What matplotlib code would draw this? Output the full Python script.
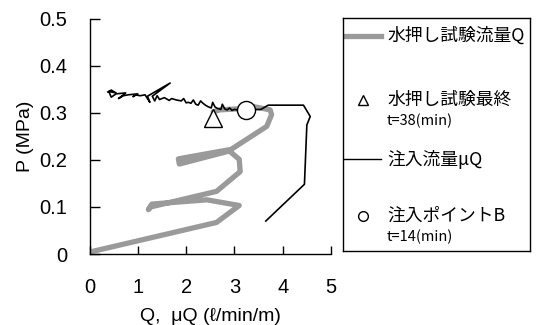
import matplotlib
matplotlib.use("Agg")
import matplotlib.pyplot as plt
from matplotlib.lines import Line2D

# ---- data ----
water_q = [0.00, 2.63, 3.10, 2.43, 1.29, 1.22, 1.27, 2.63, 3.12, 3.10, 2.87, 1.84, 1.86, 2.87,
           3.67, 3.77, 3.74, 3.39, 3.05, 2.70, 2.56]
water_p = [0.004, 0.067, 0.103, 0.115, 0.106, 0.094, 0.100, 0.133, 0.175, 0.201, 0.221, 0.202, 0.191, 0.218,
           0.271, 0.296, 0.306, 0.313, 0.308, 0.306, 0.302]

inj_q = [3.65, 4.45, 4.50, 4.57, 4.43, 3.70, 3.55, 3.23,
         3.10, 3.00, 2.95, 2.90, 2.85, 2.80, 2.75, 2.72, 2.65, 2.60, 2.55, 2.52, 2.45, 2.40,
         2.35, 2.30, 2.25, 2.20, 2.15, 2.10, 2.05, 2.00, 1.95, 1.90, 1.80, 1.70, 1.65, 1.55,
         1.45, 1.40, 1.35, 1.30, 1.67, 1.20, 1.25, 1.15, 1.05, 0.95, 0.90, 1.00, 0.80, 0.70,
         0.60, 0.75, 0.55, 0.45, 0.40, 0.55, 0.45, 0.38]
inj_p = [0.070, 0.148, 0.274, 0.292, 0.316, 0.316, 0.307, 0.306,
         0.305, 0.307, 0.305, 0.310, 0.306, 0.308, 0.318, 0.307, 0.309, 0.312, 0.322, 0.310, 0.313, 0.316,
         0.320, 0.325, 0.316, 0.318, 0.327, 0.320, 0.322, 0.321, 0.330, 0.325, 0.327, 0.330, 0.326, 0.332,
         0.328, 0.336, 0.325, 0.335, 0.363, 0.335, 0.322, 0.338, 0.336, 0.338, 0.334, 0.340, 0.338, 0.336,
         0.330, 0.342, 0.340, 0.333, 0.345, 0.342, 0.348, 0.344]

final_q, final_p = [2.55], [0.289]     # 水押し試験最終 t=38
pointB_q, pointB_p = [3.23], [0.306]   # 注入ポイントB t=14

xticks = [0, 1, 2, 3, 4, 5]
yticks = [0, 0.1, 0.2, 0.3, 0.4, 0.5]
ytick_labels = ["0", "0.1", "0.2", "0.3", "0.4", "0.5"]

legend_labels = ["水押し試験流量Q", "水押し試験最終", "注入流量μQ", "注入ポイントB"]
legend_subs = ["", "t=38(min)", "", "t=14(min)"]

FONT = ["Liberation Sans", "Noto Sans CJK JP", "DejaVu Sans"]
JFONT = ["Noto Sans CJK JP", "DejaVu Sans"]
plt.rcParams["font.family"] = FONT

W, H = 536, 325
fig = plt.figure(figsize=(W / 100, H / 100), dpi=100)
ax = fig.add_axes([89.5 / W, 1 - 254 / H, (331 - 89.5) / W, (254 - 18.5) / H])

ax.plot(water_q, water_p, color="#9a9a9a", lw=3.8, solid_capstyle="round", solid_joinstyle="round", zorder=2)
ax.plot(inj_q, inj_p, color="black", lw=1.2, zorder=3)
ax.plot(final_q, final_p, marker="^", ms=13, mfc="white", mec="black", mew=1.0, ls="none", zorder=4)
ax.plot(pointB_q, pointB_p, marker="o", ms=13, mfc="white", mec="black", mew=1.0, ls="none", zorder=5)

ax.set_xlim(0, 5)
ax.set_ylim(0, 0.5)
ax.set_xticks(xticks)
ax.set_yticks(yticks)
ax.set_yticklabels(ytick_labels)
for s in ["top", "right"]:
    ax.spines[s].set_visible(False)
for s in ["left", "bottom"]:
    ax.spines[s].set_linewidth(1.0)
ax.tick_params(axis="x", direction="in", length=6, width=1, pad=17, labelsize=14.5)
ax.tick_params(axis="y", direction="in", length=7, width=1, pad=16, labelsize=14.5)
ax.set_xlabel("Q,  μQ (ℓ/min/m)", fontsize=14, labelpad=8)
ax.set_ylabel("P (MPa)", fontsize=14, labelpad=4)

# ---- legend box (pixel coordinates inside box) ----
bx0, by0, bx1, by1 = 343, 18, 530, 251
lax = fig.add_axes([bx0 / W, 1 - by1 / H, (bx1 - bx0) / W, (by1 - by0) / H])
lax.set_xlim(bx0, bx1)
lax.set_ylim(by1, by0)
lax.set_xticks([])
lax.set_yticks([])
lax.patch.set_visible(False)
for s in lax.spines.values():
    s.set_visible(True)
    s.set_linewidth(1.0)
    s.set_color("black")
tx = 387
rows = [36, 100, 159, 216]
lax.add_line(Line2D([346, 381], [rows[0], rows[0]], color="#9a9a9a", lw=3.8))
lax.plot([363], [rows[1]], marker="^", ms=7, mfc="white", mec="black", mew=1.0)
lax.add_line(Line2D([343, 381], [rows[2], rows[2]], color="black", lw=1.0))
lax.plot([363], [rows[3]], marker="o", ms=7, mfc="white", mec="black", mew=1.0)
for lab, sub, y in zip(legend_labels, legend_subs, rows):
    lax.text(tx, y, lab, family=JFONT, fontsize=12.8, va="center", ha="left")
    if sub:
        lax.text(tx, y + 21, sub, family=JFONT, fontsize=10.5, va="center", ha="left")

fig.savefig("out.png", dpi=100)
